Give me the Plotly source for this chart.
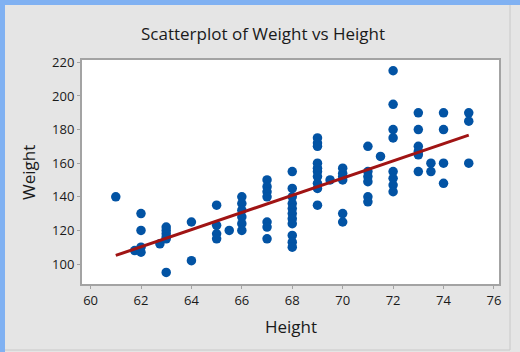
import numpy as np
import plotly.graph_objects as go

# Data
height = [61, 61.75, 62, 62, 62, 62, 62.75, 63, 63, 63, 63, 63, 63, 64, 64,
          65, 65, 65, 65, 65.5,
          66, 66, 66, 66, 66, 66,
          67, 67, 67, 67, 67, 67, 67,
          68, 68, 68, 68, 68, 68, 68, 68, 68, 68, 68,
          69, 69, 69, 69, 69, 69, 69, 69, 69, 69, 69.5,
          70, 70, 70, 70, 70, 70,
          71, 71, 71, 71, 71, 71, 71.5,
          72, 72, 72, 72, 72, 72, 72, 72,
          73, 73, 73, 73, 73, 73, 73.5, 73.5,
          74, 74, 74, 74, 75, 75, 75]
weight = [140, 108, 130, 120, 110, 107, 112, 122, 120, 118, 116, 115, 95, 125, 102,
          135, 123, 118, 115, 120,
          140, 136, 132, 128, 124, 120,
          150, 146, 143, 140, 125, 122, 115,
          155, 145, 140, 136, 133, 130, 127, 124, 117, 113, 110,
          175, 172, 170, 160, 157, 155, 152, 148, 145, 135, 150,
          157, 154, 152, 150, 130, 125,
          170, 155, 152, 149, 140, 137, 164,
          215, 195, 180, 175, 155, 151, 147, 143,
          190, 180, 170, 167, 165, 155, 160, 155,
          190, 180, 160, 148, 190, 185, 160]

x_ticks = [60, 62, 64, 66, 68, 70, 72, 74, 76]
y_ticks = [100, 120, 140, 160, 180, 200, 220]

slope, intercept = np.polyfit(height, weight, 1)
fit_x = [min(height), max(height)]
fit_y = [intercept + slope * v for v in fit_x]

W, H = 520, 352
L, R, T, B = 82, 21, 60, 68
PW, PH = W - L - R, H - T - B

def px(x):
    return (x - L) / PW

def py(y):
    return (H - B - y) / PH

fig = go.Figure()
fig.add_trace(go.Scatter(x=height, y=weight, mode="markers",
                         marker=dict(color="#0253a4", size=9.5, line=dict(width=0)),
                         showlegend=False, hoverinfo="x+y"))
fig.add_trace(go.Scatter(x=fit_x, y=fit_y, mode="lines",
                         line=dict(color="#a01414", width=3),
                         showlegend=False))

FONT = "Open Sans, sans-serif"
axis_font = dict(family=FONT, size=13, color="#1a1a1a")
title_font = dict(family=FONT, size=17, color="#1a1a1a")
fig.update_layout(
    width=W, height=H,
    paper_bgcolor="#e5e5e5", plot_bgcolor="#ffffff",
    margin=dict(l=L, r=R, t=T, b=B),
    xaxis=dict(range=[59.66, 76.2], tickvals=x_ticks, showgrid=False, zeroline=False,
               showline=True, mirror=True, linecolor="#a3a3a3", linewidth=2,
               ticks="outside", ticklen=3, tickcolor="#a3a3a3", tickfont=axis_font),
    yaxis=dict(range=[88.1, 221.4], tickvals=y_ticks, showgrid=False, zeroline=False,
               showline=True, mirror=True, linecolor="#a3a3a3", linewidth=2,
               ticks="outside", ticklen=3, tickcolor="#a3a3a3", tickfont=axis_font),
    annotations=[
        dict(text="Scatterplot of Weight vs Height", xref="paper", yref="paper",
             x=px(263), y=py(34), xanchor="center", yanchor="middle", showarrow=False,
             font=dict(family=FONT, size=17, color="#1a1a1a")),
        dict(text="Height", xref="paper", yref="paper",
             x=px(291), y=py(326), xanchor="center", yanchor="middle", showarrow=False,
             font=title_font),
        dict(text="Weight", xref="paper", yref="paper", textangle=-90,
             x=px(28), y=py(173), xanchor="center", yanchor="middle", showarrow=False,
             font=title_font),
    ],
    shapes=[
        dict(type="rect", xref="paper", yref="paper", x0=px(0), x1=px(5), y0=py(H), y1=py(0),
             fillcolor="#80b1f2", line=dict(width=0), layer="above"),
        dict(type="rect", xref="paper", yref="paper", x0=px(0), x1=px(W), y0=py(5), y1=py(0),
             fillcolor="#80b1f2", line=dict(width=0), layer="above"),
        dict(type="line", xref="paper", yref="paper", x0=px(510), x1=px(510), y0=py(350), y1=py(5),
             line=dict(color="#c8c8c8", width=1)),
        dict(type="line", xref="paper", yref="paper", x0=px(5), x1=px(510), y0=py(350), y1=py(350),
             line=dict(color="#c8c8c8", width=1)),
    ],
)
fig.write_html("out.html", config={"displayModeBar": False},
               post_script="document.body.style.margin='0';")
